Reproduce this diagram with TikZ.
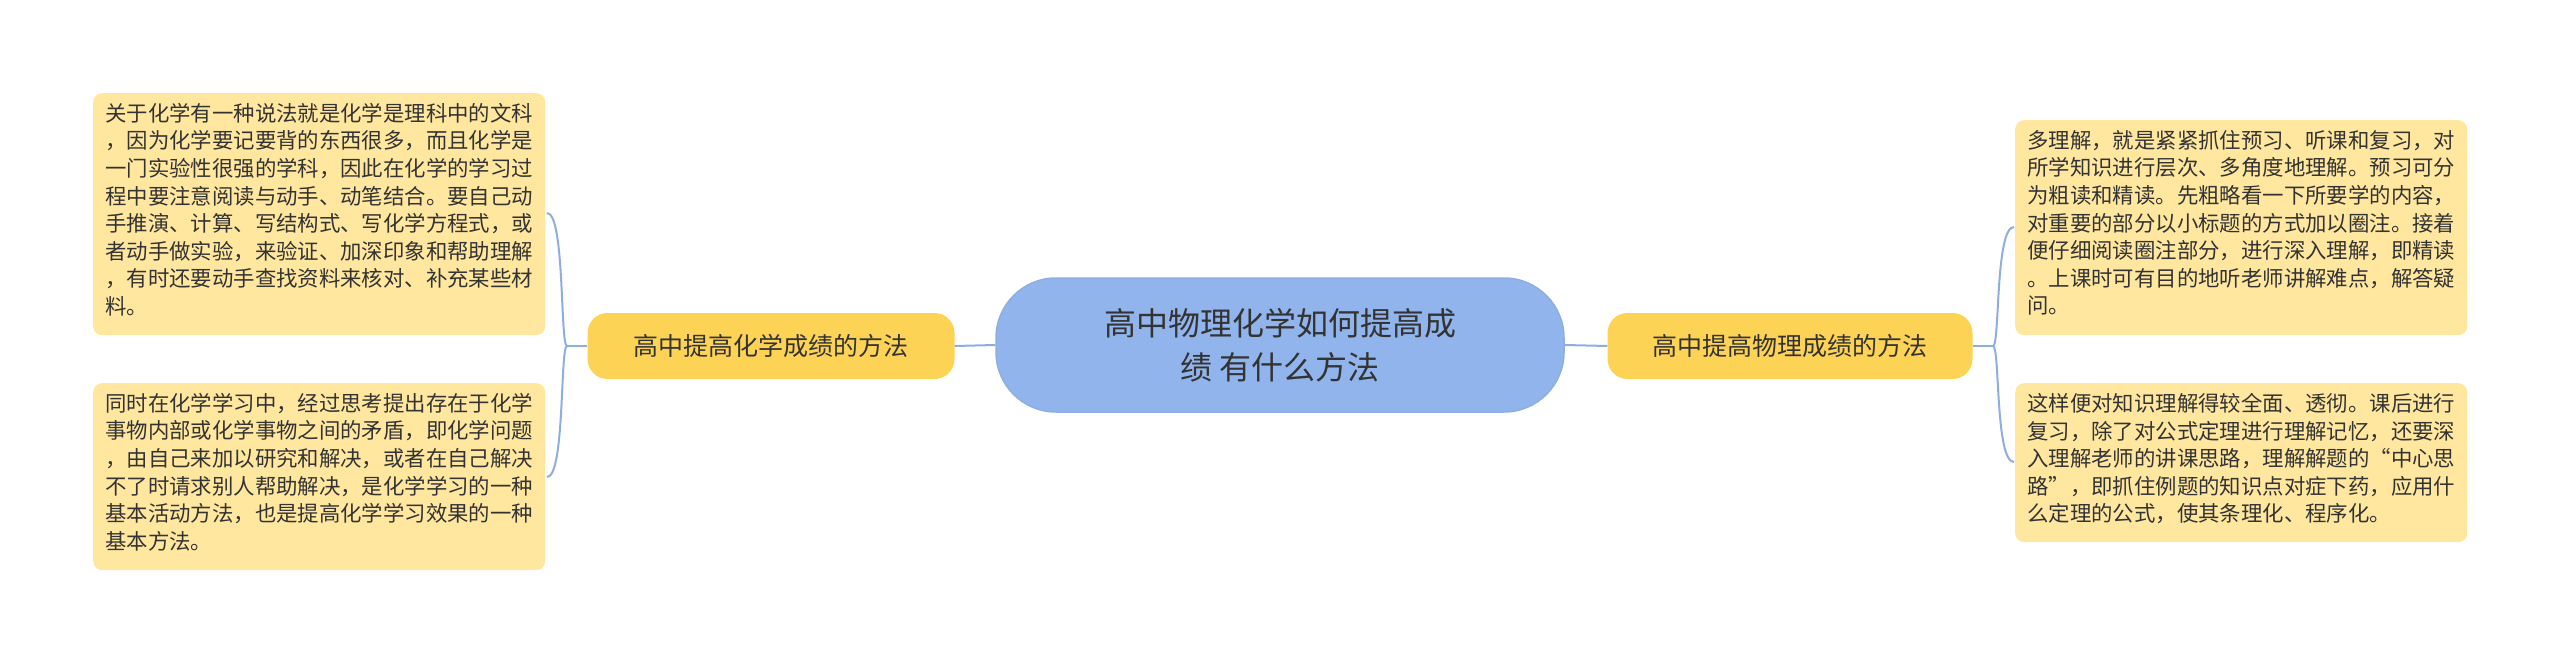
\documentclass[tikz,border=0pt]{standalone}
\usepackage{fontspec}
\setmainfont{Noto Sans CJK SC}
\begin{document}
\begin{tikzpicture}[x=1pt,y=-1pt,
 leaf/.style={fill=leafc,rounded corners=9pt,inner sep=0pt,align=left,anchor=north west,text=txt},
 ltxt/.style={anchor=north west,align=left,inner sep=0pt,text=txt,font=\fontsize{21.4}{27.6}\selectfont},
 sub/.style={fill=subc,rounded corners=20pt,minimum width=#1,minimum height=66pt,inner sep=0pt,font=\fontsize{25}{30}\selectfont,text=txt},
 conn/.style={draw=linec,line width=2pt}]
\definecolor{leafc}{HTML}{FFE7A0}
\definecolor{subc}{HTML}{FDD355}
\definecolor{cenc}{HTML}{91B4EC}
\definecolor{linec}{HTML}{8FAEE0}
\definecolor{txt}{HTML}{333333}
\useasboundingbox (0,0) rectangle (2560,663);
\coordinate (lj) at (567,346);
\coordinate (rj) at (1993,346);
\draw[conn] (lj) .. controls (560,346) and (565,213) .. (547,213);
\draw[conn] (lj) .. controls (560,346) and (565,477) .. (547,477);
\draw[conn] (rj) .. controls (2000,346) and (1995,227) .. (2014,227);
\draw[conn] (rj) .. controls (2000,346) and (1995,462) .. (2014,462);
\node[fill=cenc,draw=linec,line width=1.5pt,rounded corners=60pt,minimum width=568pt,minimum height=134pt,align=center,font=\fontsize{32}{44}\selectfont,text=txt] (c) at (1280,345) {高中物理化学如何提高成\\绩 有什么方法};
\node[sub=367pt] (l) at (771,346) {高中提高化学成绩的方法};
\node[sub=365pt] (r) at (1790,346) {高中提高物理成绩的方法};
\node[leaf,minimum width=452pt,minimum height=242pt] (l1) at (93,93) {};
\node[ltxt] at (105,103) {关于化学有一种说法就是化学是理科中的文科\\，因为化学要记要背的东西很多，而且化学是\\一门实验性很强的学科，因此在化学的学习过\\程中要注意阅读与动手、动笔结合。要自己动\\手推演、计算、写结构式、写化学方程式，或\\者动手做实验，来验证、加深印象和帮助理解\\，有时还要动手查找资料来核对、补充某些材\\料。};
\node[leaf,minimum width=452pt,minimum height=187pt] (l2) at (93,383) {};
\node[ltxt] at (105,393) {同时在化学学习中，经过思考提出存在于化学\\事物内部或化学事物之间的矛盾，即化学问题\\，由自己来加以研究和解决，或者在自己解决\\不了时请求别人帮助解决，是化学学习的一种\\基本活动方法，也是提高化学学习效果的一种\\基本方法。};
\node[leaf,minimum width=452pt,minimum height=215pt] (r1) at (2015,120) {};
\node[ltxt] at (2027,130) {多理解，就是紧紧抓住预习、听课和复习，对\\所学知识进行层次、多角度地理解。预习可分\\为粗读和精读。先粗略看一下所要学的内容，\\对重要的部分以小标题的方式加以圈注。接着\\便仔细阅读圈注部分，进行深入理解，即精读\\。上课时可有目的地听老师讲解难点，解答疑\\问。};
\node[leaf,minimum width=452pt,minimum height=159pt] (r2) at (2015,383) {};
\node[ltxt] at (2027,393) {这样便对知识理解得较全面、透彻。课后进行\\复习，除了对公式定理进行理解记忆，还要深\\入理解老师的讲课思路，理解解题的“中心思\\路”，即抓住例题的知识点对症下药，应用什\\么定理的公式，使其条理化、程序化。};
\draw[conn] (c.west) -- (l.east);
\draw[conn] (c.east) -- (r.west);
\draw[conn] (l.west) -- (lj);
\draw[conn] (r.east) -- (rj);
\end{tikzpicture}
\end{document}
